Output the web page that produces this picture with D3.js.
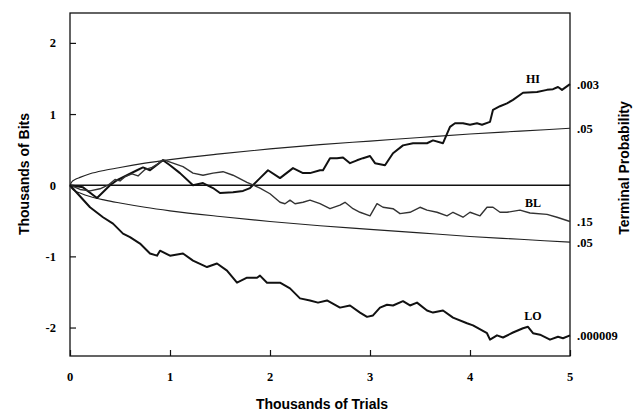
<!DOCTYPE html>
<html><head><meta charset="utf-8">
<script src="https://cdn.jsdelivr.net/npm/d3@7"></script>
<style>body{margin:0;background:#fff}svg{display:block}</style>
</head><body>
<svg id="c" width="644" height="413"></svg>
<script>
// ---- data (thousands of trials, thousands of bits) ----
const xTicks = [0, 1, 2, 3, 4, 5];
const yTicks = [-2, -1, 0, 1, 2];
const hiX = [0,0.13,0.27,0.4,0.47,0.57,0.67,0.73,0.8,0.9,0.93,1.0,1.1,1.23,1.33,1.43,1.5,1.63,1.73,1.8,1.9,1.98,2.1,2.23,2.33,2.4,2.5,2.53,2.6,2.67,2.73,2.8,2.87,2.93,3.0,3.05,3.15,3.23,3.33,3.43,3.57,3.63,3.73,3.8,3.85,3.93,4.0,4.07,4.12,4.2,4.23,4.3,4.37,4.43,4.53,4.67,4.77,4.83,4.88,4.92,5.0];
const hiY = [0,-0.03,-0.18,0.0,0.07,0.14,0.21,0.25,0.21,0.32,0.35,0.28,0.17,0.0,0.03,-0.04,-0.11,-0.1,-0.08,-0.04,0.1,0.21,0.1,0.24,0.17,0.17,0.21,0.21,0.38,0.38,0.39,0.31,0.35,0.38,0.41,0.31,0.28,0.45,0.56,0.59,0.59,0.63,0.59,0.82,0.87,0.87,0.85,0.87,0.85,0.89,1.06,1.11,1.15,1.2,1.3,1.31,1.34,1.35,1.38,1.34,1.42];
const blX = [0,0.1,0.2,0.3,0.38,0.45,0.5,0.55,0.62,0.68,0.75,0.82,0.88,0.93,1.03,1.13,1.23,1.33,1.43,1.53,1.63,1.77,1.9,2.0,2.1,2.15,2.2,2.25,2.33,2.4,2.5,2.6,2.7,2.75,2.83,2.9,3.0,3.07,3.13,3.23,3.3,3.4,3.5,3.57,3.67,3.77,3.83,3.93,4.0,4.1,4.17,4.23,4.3,4.37,4.5,4.6,4.77,4.87,5.0];
const blY = [0,-0.06,-0.08,-0.05,0.0,0.08,0.06,0.12,0.16,0.13,0.22,0.25,0.3,0.36,0.31,0.26,0.17,0.14,0.17,0.19,0.14,0.04,-0.04,-0.12,-0.24,-0.26,-0.21,-0.26,-0.24,-0.21,-0.26,-0.33,-0.28,-0.24,-0.33,-0.38,-0.43,-0.26,-0.31,-0.33,-0.4,-0.38,-0.31,-0.35,-0.38,-0.43,-0.38,-0.45,-0.38,-0.43,-0.31,-0.31,-0.38,-0.38,-0.35,-0.39,-0.41,-0.45,-0.51];
const loX = [0,0.2,0.33,0.43,0.53,0.6,0.7,0.8,0.87,0.9,1.0,1.13,1.23,1.37,1.47,1.57,1.67,1.77,1.87,1.9,1.97,2.1,2.2,2.3,2.4,2.48,2.57,2.7,2.8,2.9,2.97,3.03,3.1,3.17,3.23,3.33,3.4,3.47,3.57,3.63,3.73,3.83,3.97,4.03,4.17,4.2,4.27,4.33,4.43,4.53,4.58,4.63,4.7,4.8,4.88,4.93,5.0];
const loY = [0,-0.31,-0.45,-0.54,-0.68,-0.73,-0.82,-0.96,-0.99,-0.92,-0.99,-0.96,-1.06,-1.15,-1.1,-1.2,-1.37,-1.3,-1.3,-1.27,-1.37,-1.37,-1.45,-1.59,-1.62,-1.65,-1.62,-1.72,-1.69,-1.79,-1.85,-1.83,-1.72,-1.68,-1.69,-1.63,-1.69,-1.65,-1.76,-1.79,-1.76,-1.86,-1.94,-1.97,-2.08,-2.17,-2.11,-2.14,-2.07,-2.01,-1.99,-2.08,-2.1,-2.17,-2.13,-2.15,-2.11];
const envX = [0,0.02,0.05,0.1,0.2,0.35,0.5,0.75,1,1.5,2,2.5,3,3.5,4,4.5,5];
const envUp = [0,0.05,0.08,0.11,0.16,0.21,0.25,0.31,0.36,0.44,0.51,0.57,0.62,0.67,0.72,0.76,0.80];
const envLo = [0,-0.05,-0.08,-0.11,-0.16,-0.21,-0.25,-0.31,-0.36,-0.44,-0.51,-0.57,-0.62,-0.67,-0.72,-0.76,-0.80];
const seriesNames = ["HI", "BL", "LO"];
const rightLabels = [".003", ".05", ".15", ".05", ".000009"];

const svg = d3.select("#c");
const x = d3.scaleLinear().domain([0, 5]).range([70, 570]);
const y = d3.scaleLinear().domain([-2.4, 2.42]).range([356, 13]);
const serif = "'Liberation Serif','Times New Roman',serif";
const sans = "'Liberation Sans',Arial,sans-serif";

// frame
svg.append("rect").attr("x", 70).attr("y", 13).attr("width", 500).attr("height", 343)
  .attr("fill", "none").attr("stroke", "#111").attr("stroke-width", 1.3);

// axes (inward ticks)
const gx = svg.append("g").attr("transform", "translate(0,356)")
  .call(d3.axisTop(x).tickValues(xTicks).tickSize(6).tickFormat(""));
const gy = svg.append("g").attr("transform", "translate(70,0)")
  .call(d3.axisRight(y).tickValues(yTicks).tickSize(6).tickFormat(""));
[gx, gy].forEach(g => { g.select(".domain").remove(); g.selectAll("line").attr("stroke", "#111").attr("stroke-width", 1.2); });

svg.append("g").selectAll("text").data(xTicks).join("text")
  .attr("x", d => x(d)).attr("y", 381).attr("text-anchor", "middle")
  .attr("font-family", serif).attr("font-weight", "bold").attr("font-size", 12.5)
  .text(d => String(d));
svg.append("g").selectAll("text").data(yTicks).join("text")
  .attr("x", 56).attr("y", d => y(d) + 4.5).attr("text-anchor", "end")
  .attr("font-family", serif).attr("font-weight", "bold").attr("font-size", 12.5)
  .text(d => String(d));

// zero line
svg.append("line").attr("x1", x(0)).attr("x2", x(5)).attr("y1", y(0)).attr("y2", y(0))
  .attr("stroke", "#111").attr("stroke-width", 1.4);

// envelopes
const envLine = d3.line().x(d => x(d[0])).y(d => y(d[1])).curve(d3.curveMonotoneX);
[envUp, envLo].forEach(v => {
  svg.append("path").datum(envX.map((xx, i) => [xx, v[i]])).attr("d", envLine)
    .attr("fill", "none").attr("stroke", "#222").attr("stroke-width", 1.1);
});

// walks
const walk = d3.line().x(d => x(d[0])).y(d => y(d[1]));
const walks = [
  {name: seriesNames[0], xs: hiX, ys: hiY, w: 2, c: "#111"},
  {name: seriesNames[1], xs: blX, ys: blY, w: 1.4, c: "#333"},
  {name: seriesNames[2], xs: loX, ys: loY, w: 2, c: "#111"}
];
walks.forEach(s => {
  svg.append("path").datum(s.xs.map((xx, i) => [xx, s.ys[i]])).attr("d", walk)
    .attr("fill", "none").attr("stroke", s.c).attr("stroke-width", s.w)
    .attr("stroke-linejoin", "round");
});

// series labels
const labelAt = [[4.63, 1.43], [4.63, -0.31], [4.63, -1.9]];
svg.append("g").selectAll("text").data(seriesNames).join("text")
  .attr("x", (d, i) => x(labelAt[i][0])).attr("y", (d, i) => y(labelAt[i][1]))
  .attr("text-anchor", "middle").attr("font-family", serif).attr("font-weight", "bold")
  .attr("font-size", 12).text(d => d);

// right terminal probabilities at line ends
const ends = [hiY[hiY.length - 1], envUp[envUp.length - 1], blY[blY.length - 1], envLo[envLo.length - 1], loY[loY.length - 1]];
svg.append("g").selectAll("text").data(rightLabels).join("text")
  .attr("x", 577).attr("y", (d, i) => y(ends[i]) + 4.5)
  .attr("font-family", serif).attr("font-weight", "bold").attr("font-size", 12.5)
  .text(d => d);

// axis titles
svg.append("text").attr("transform", "translate(29,174) rotate(-90)")
  .attr("text-anchor", "middle").attr("font-family", sans).attr("font-weight", "bold")
  .attr("font-size", 14).text("Thousands of Bits");
svg.append("text").attr("x", 322).attr("y", 409).attr("text-anchor", "middle")
  .attr("font-family", sans).attr("font-weight", "bold").attr("font-size", 14)
  .text("Thousands of Trials");
svg.append("text").attr("transform", "translate(629,168) rotate(-90)")
  .attr("text-anchor", "middle").attr("font-family", sans).attr("font-weight", "bold")
  .attr("font-size", 14).text("Terminal Probability");
</script>
</body></html>
